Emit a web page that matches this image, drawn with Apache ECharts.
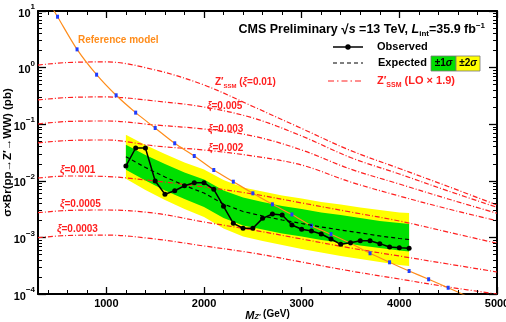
<!DOCTYPE html>
<html>
<head>
<meta charset="utf-8">
<script src="https://cdn.jsdelivr.net/npm/echarts@6/dist/echarts.min.js"></script>
<style>html,body{margin:0;background:#fff}#main{width:506px;height:322px}</style>
</head>
<body>
<div id="main"></div>
<script>
// reference model (orange line, blue squares)
const refMass = [300, 500, 700, 900, 1100, 1300, 1500, 1700, 1900, 2100, 2300, 2500, 2700, 2900, 3100, 3300, 3500, 3700, 3900, 4100, 4300, 4500, 4700]
const refXsec = [29.9, 7.93, 2.10, 0.75, 0.324, 0.160, 0.0857, 0.046, 0.0274, 0.0155, 0.00964, 0.00601, 0.00384, 0.00254, 0.00161, 0.00114, 0.000787, 0.000524, 0.000363, 0.000255, 0.000182, 0.000129, 0.00009]

// observed limit
const obsMass = [1200, 1300, 1400, 1500, 1600, 1700, 1800, 1900, 2000, 2100, 2200, 2300, 2400, 2500, 2600, 2700, 2800, 2900, 3000, 3100, 3200, 3300, 3400, 3500, 3600, 3700, 3800, 3900, 4000, 4100]
const obsLimit = [0.0182, 0.038, 0.038, 0.0099, 0.00577, 0.00668, 0.00818, 0.00925, 0.00925, 0.00708, 0.00354, 0.00177, 0.00145, 0.00145, 0.00217, 0.00259, 0.00249, 0.00166, 0.00139, 0.0013, 0.00115, 0.000937, 0.000755, 0.000805, 0.000875, 0.000875, 0.000775, 0.000676, 0.000658, 0.000641]

// expected limit and bands
const bandMass = [1200, 1400, 1600, 1800, 2000, 2200, 2400, 2600, 2800, 3000, 3200, 3400, 3600, 3800, 4000, 4100]
const expLimit = [0.0267, 0.0172, 0.0117, 0.00826, 0.00608, 0.00389, 0.00287, 0.00239, 0.00203, 0.00176, 0.00153, 0.00135, 0.00120, 0.00106, 0.000957, 0.000918]
const up1 = [0.0435, 0.0286, 0.0198, 0.0140, 0.01054, 0.00675, 0.00507, 0.00422, 0.00358, 0.00318, 0.00275, 0.00249, 0.00220, 0.00195, 0.00180, 0.00173]
const dn1 = [0.0157, 0.01012, 0.00673, 0.00476, 0.00344, 0.00220, 0.00163, 0.00138, 0.00117, 0.00104, 0.000899, 0.000813, 0.000719, 0.000650, 0.000587, 0.000564]
const up2 = [0.0653, 0.0430, 0.0297, 0.0210, 0.0158, 0.01033, 0.00762, 0.00647, 0.00550, 0.00488, 0.00423, 0.00382, 0.00338, 0.00305, 0.00275, 0.00270]
const dn2 = [0.01089, 0.00687, 0.00458, 0.00318, 0.00229, 0.00144, 0.00104, 0.000863, 0.000733, 0.000624, 0.000541, 0.000470, 0.000416, 0.000368, 0.000326, 0.000313]

// Z'SSM curves for several xi
const xiMass = [300, 600, 1000, 1500, 2000, 2500, 3000, 3500, 4000, 4500, 5000]
const xi0100 = [1.11, 1.23, 1.26, 0.908, 0.493, 0.206, 0.0839, 0.0343, 0.0165, 0.00793, 0.00373]
const xi0050 = [0.268, 0.296, 0.303, 0.257, 0.201, 0.129, 0.0619, 0.0258, 0.0132, 0.00661, 0.00340]
const xi0030 = [0.1009, 0.1117, 0.114, 0.0968, 0.0822, 0.0619, 0.0350, 0.0161, 0.00877, 0.00477, 0.00267]
const xi0020 = [0.0466, 0.0515, 0.0526, 0.0412, 0.0350, 0.0274, 0.0190, 0.00953, 0.00538, 0.00318, 0.00197]
const xi0010 = [0.0112, 0.01216, 0.0119, 0.00991, 0.00777, 0.00585, 0.00406, 0.00281, 0.00195, 0.00124, 0.000787]
const xi0005 = [0.00273, 0.00299, 0.00305, 0.00267, 0.00187, 0.00135, 0.000937, 0.00065, 0.000469, 0.000339, 0.000245]
const xi0003 = [0.000989, 0.00108, 0.0011, 0.000937, 0.000705, 0.00053, 0.000367, 0.000255, 0.000184, 0.000133, 0.0001]

// tick labels
const majorX = [1000, 2000, 3000, 4000, 5000]
const minorX = [400, 600, 800, 1200, 1400, 1600, 1800, 2200, 2400, 2600, 2800, 3200, 3400, 3600, 3800, 4200, 4400, 4600, 4800]
const minorY = []
for (let n = -4; n < 1; n++) {
  for (let k = 2; k < 10; k++) minorY.push(n + Math.log10(k))
}

const FONT = '"Liberation Sans", Arial, Helvetica, sans-serif'
const RED = '#ff1f1f'
const DASHDOT = [5, 2, 1, 2]

const pairs = (xs, ys) => xs.map((x, i) => [x, ys[i]])

function band (lo, hi, color, z) {
  return {
    type: 'custom',
    xAxisIndex: 0,
    yAxisIndex: 0,
    silent: true,
    z: z,
    data: pairs(bandMass, hi),
    renderItem: (params, api) => {
      if (params.dataIndex !== 0) return null
      const pts = []
      for (let i = 0; i < bandMass.length; i++) pts.push(api.coord([bandMass[i], hi[i]]))
      for (let i = bandMass.length - 1; i >= 0; i--) pts.push(api.coord([bandMass[i], lo[i]]))
      return { type: 'polygon', shape: { points: pts }, style: { fill: color } }
    }
  }
}

function xiLine (vals) {
  return {
    type: 'line',
    xAxisIndex: 0,
    yAxisIndex: 0,
    data: pairs(xiMass, vals),
    smooth: 0.35,
    showSymbol: false,
    z: 3,
    lineStyle: { color: RED, width: 1.2, type: DASHDOT }
  }
}

const axisLine = { show: true, onZero: false, lineStyle: { color: '#000', width: 2 } }
const tickStyle = { color: '#000', width: 1.3 }
const gridBox = { left: 38, right: 9, top: 11, bottom: 28, outerBoundsMode: 'none', containLabel: false }

// helper axes carrying only the short minor ticks
function minorAxis (pos, isX) {
  return {
    gridIndex: 1,
    type: 'value',
    min: isX ? 300 : -4,
    max: isX ? 5000 : 1,
    position: pos,
    axisLine: { show: false, onZero: false },
    axisTick: { show: true, inside: true, length: 4, customValues: isX ? minorX : minorY, lineStyle: { color: '#000', width: 1 } },
    axisLabel: { show: false },
    splitLine: { show: false },
    z: 20
  }
}

const chart = echarts.init(document.getElementById('main'))
const option = {
  animation: false,
  grid: [gridBox, Object.assign({}, gridBox)],
  xAxis: [
    {
      gridIndex: 0, type: 'value', min: 300, max: 5000, position: 'bottom',
      axisLine: axisLine,
      axisTick: { inside: true, length: 7, customValues: majorX, lineStyle: tickStyle },
      axisLabel: { customValues: majorX, formatter: v => String(v), margin: 4, color: '#000', fontSize: 11, fontWeight: 'bold', fontFamily: FONT },
      splitLine: { show: false },
      name: '{m|M}{s|Z′} (GeV)',
      nameLocation: 'middle',
      nameGap: 13,
      nameMoveOverlap: false,
      nameTextStyle: {
        color: '#000', fontSize: 10, fontWeight: 'bold', fontFamily: FONT,
        rich: {
          m: { fontSize: 11, fontStyle: 'italic', fontWeight: 'bold', fontFamily: FONT, verticalAlign: 'bottom', lineHeight: 14 },
          s: { fontSize: 7, fontStyle: 'italic', fontWeight: 'bold', fontFamily: FONT, verticalAlign: 'bottom', lineHeight: 10 }
        }
      }
    },
    {
      gridIndex: 0, type: 'value', min: 300, max: 5000, position: 'top',
      axisLine: axisLine,
      axisTick: { inside: true, length: 7, customValues: majorX, lineStyle: tickStyle },
      axisLabel: { show: false },
      splitLine: { show: false }
    },
    minorAxis('bottom', true),
    minorAxis('top', true)
  ],
  yAxis: [
    {
      gridIndex: 0, type: 'log', logBase: 10, min: 1e-4, max: 10, position: 'left',
      axisLine: axisLine,
      axisTick: { inside: true, length: 8, lineStyle: tickStyle },
      axisLabel: {
        margin: 3,
        formatter: v => {
          const e = Math.round(Math.log10(v))
          return '{b|10}{e|' + String(e).replace('-', '−') + '}'
        },
        rich: {
          b: { color: '#000', fontSize: 11, fontWeight: 'bold', fontFamily: FONT, verticalAlign: 'bottom', lineHeight: 16 },
          e: { color: '#000', fontSize: 8, fontWeight: 'bold', fontFamily: FONT, verticalAlign: 'top', lineHeight: 9 }
        }
      },
      splitLine: { show: false },
      name: 'σ×Br(pp→Z′→WW) (pb)',
      nameLocation: 'middle',
      nameGap: 24,
      nameMoveOverlap: false,
      nameTextStyle: { color: '#000', fontSize: 11.5, fontWeight: 'bold', fontFamily: FONT }
    },
    {
      gridIndex: 0, type: 'log', logBase: 10, min: 1e-4, max: 10, position: 'right',
      axisLine: axisLine,
      axisTick: { inside: true, length: 8, lineStyle: tickStyle },
      axisLabel: { show: false },
      splitLine: { show: false }
    },
    minorAxis('left', false),
    minorAxis('right', false)
  ],
  series: [
    band(dn2, up2, '#ffff00', 1),
    band(dn1, up1, '#00e000', 2),
    xiLine(xi0100),
    xiLine(xi0050),
    xiLine(xi0030),
    xiLine(xi0020),
    xiLine(xi0010),
    xiLine(xi0005),
    xiLine(xi0003),
    {
      type: 'line', xAxisIndex: 0, yAxisIndex: 0, z: 4,
      data: pairs(refMass, refXsec),
      smooth: 0.3,
      symbol: 'rect',
      symbolSize: [3, 4],
      itemStyle: { color: '#1f3dff' },
      lineStyle: { color: '#ff8c1a', width: 1.2 }
    },
    {
      type: 'line', xAxisIndex: 0, yAxisIndex: 0, z: 5,
      data: pairs(bandMass, expLimit),
      showSymbol: false,
      lineStyle: { color: '#000', width: 1.2, type: [4, 3] }
    },
    {
      type: 'line', xAxisIndex: 0, yAxisIndex: 0, z: 6,
      data: pairs(obsMass, obsLimit),
      symbol: 'circle',
      symbolSize: 5,
      itemStyle: { color: '#000' },
      lineStyle: { color: '#000', width: 1.5 }
    }
  ],
  graphic: [
    {
      type: 'text', x: 485, y: 30, z: 10,
      style: {
        text: 'CMS Preliminary {n|√}{i|s} =13 TeV, {i|L}{sub|int}=35.9 fb{sup|−1}',
        font: 'bold 12.5px ' + FONT, fill: '#000', align: 'right', verticalAlign: 'middle',
        rich: {
          n: { font: 'bold 13.5px ' + FONT },
          i: { font: 'italic bold 12.5px ' + FONT },
          sub: { font: 'bold 8px ' + FONT, verticalAlign: 'bottom', lineHeight: 16 },
          sup: { font: 'bold 8px ' + FONT, verticalAlign: 'top', lineHeight: 16 }
        }
      }
    },
    // legend
    { type: 'line', shape: { x1: 333, y1: 47, x2: 363, y2: 47 }, style: { stroke: '#000', lineWidth: 1.5 } },
    { type: 'circle', shape: { cx: 348, cy: 47, r: 2.7 }, style: { fill: '#000' } },
    { type: 'text', x: 377, y: 47, style: { text: 'Observed', font: 'bold 11px ' + FONT, fill: '#000', verticalAlign: 'middle' } },
    { type: 'line', shape: { x1: 333, y1: 63, x2: 363, y2: 63 }, style: { stroke: '#000', lineWidth: 1.2, lineDash: [4, 3] } },
    { type: 'text', x: 378, y: 63, style: { text: 'Expected', font: 'bold 11px ' + FONT, fill: '#000', verticalAlign: 'middle' } },
    { type: 'rect', shape: { x: 431, y: 56, width: 25, height: 15 }, style: { fill: '#00e000', stroke: '#777', lineWidth: 0.8 } },
    { type: 'rect', shape: { x: 456, y: 56, width: 24, height: 15 }, style: { fill: '#ffff00', stroke: '#777', lineWidth: 0.8 } },
    { type: 'text', x: 443.5, y: 63.5, style: { text: '±1{s|σ}', font: 'bold 10px ' + FONT, fill: '#000', align: 'center', verticalAlign: 'middle', rich: { s: { font: 'italic bold 10px ' + FONT } } } },
    { type: 'text', x: 468, y: 63.5, style: { text: '±2{s|σ}', font: 'bold 10px ' + FONT, fill: '#000', align: 'center', verticalAlign: 'middle', rich: { s: { font: 'italic bold 10px ' + FONT } } } },
    { type: 'line', shape: { x1: 328, y1: 81, x2: 363, y2: 81 }, style: { stroke: RED, lineWidth: 1.2, lineDash: [6, 3, 1.5, 3] } },
    {
      type: 'text', x: 377, y: 81,
      style: {
        text: 'Z′{sub|SSM} (LO × 1.9)', font: 'bold 11px ' + FONT, fill: RED, verticalAlign: 'middle',
        rich: { sub: { font: 'bold 7px ' + FONT, verticalAlign: 'bottom', lineHeight: 15 } }
      }
    },
    // curve labels
    { type: 'text', x: 78, y: 40, style: { text: 'Reference model', font: 'bold 10px ' + FONT, fill: '#ff8c1a', verticalAlign: 'middle' } },
    {
      type: 'text', x: 215, y: 82,
      style: {
        text: 'Z′{sub|SSM} ({x|ξ}=0.01)', font: 'bold 10px ' + FONT, fill: RED, verticalAlign: 'middle',
        rich: { sub: { font: 'bold 6px ' + FONT, verticalAlign: 'bottom', lineHeight: 14 }, x: { font: 'italic bold 10px ' + FONT } }
      }
    },
    { type: 'text', x: 207, y: 106, style: { text: '{x|ξ}=0.005', font: 'bold 10px ' + FONT, fill: RED, verticalAlign: 'middle', rich: { x: { font: 'italic bold 10px ' + FONT } } } },
    { type: 'text', x: 208, y: 129, style: { text: '{x|ξ}=0.003', font: 'bold 10px ' + FONT, fill: RED, verticalAlign: 'middle', rich: { x: { font: 'italic bold 10px ' + FONT } } } },
    { type: 'text', x: 208, y: 148, style: { text: '{x|ξ}=0.002', font: 'bold 10px ' + FONT, fill: RED, verticalAlign: 'middle', rich: { x: { font: 'italic bold 10px ' + FONT } } } },
    { type: 'text', x: 60, y: 170, style: { text: '{x|ξ}=0.001', font: 'bold 10px ' + FONT, fill: RED, verticalAlign: 'middle', rich: { x: { font: 'italic bold 10px ' + FONT } } } },
    { type: 'text', x: 60, y: 204, style: { text: '{x|ξ}=0.0005', font: 'bold 10px ' + FONT, fill: RED, verticalAlign: 'middle', rich: { x: { font: 'italic bold 10px ' + FONT } } } },
    { type: 'text', x: 57, y: 229, style: { text: '{x|ξ}=0.0003', font: 'bold 10px ' + FONT, fill: RED, verticalAlign: 'middle', rich: { x: { font: 'italic bold 10px ' + FONT } } } }
  ]
}
chart.setOption(option)
</script>
</body>
</html>
